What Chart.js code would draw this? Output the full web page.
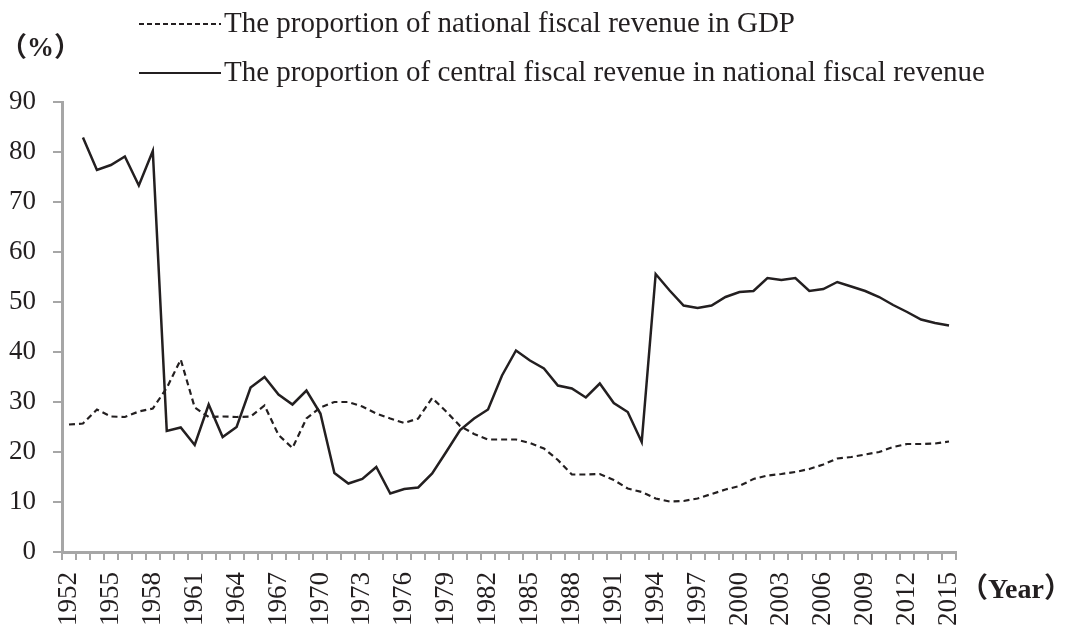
<!DOCTYPE html>
<html><head><meta charset="utf-8">
<script src="https://cdn.jsdelivr.net/npm/chart.js@4.4.1/dist/chart.umd.min.js"></script>
<style>html,body{margin:0;padding:0;background:#fff}#wrap{width:1070px;height:628px;position:relative}</style>
</head><body><div id="wrap"><canvas id="c"></canvas></div>
<script>
const years = [];
for (let y = 1952; y <= 2015; y++) years.push(String(y));
const seriesNames = ["The proportion of national fiscal revenue in GDP","The proportion of central fiscal revenue in national fiscal revenue"];
const nationalInGDP = [25.5,25.7,28.5,27.1,27.0,28.1,28.7,32.8,38.5,28.9,27.0,27.1,27.0,27.1,29.3,23.4,20.8,26.7,28.9,30.0,30.0,29.1,27.7,26.7,25.8,26.7,30.8,28.1,25.2,23.6,22.5,22.5,22.5,21.8,20.7,18.4,15.5,15.5,15.6,14.4,12.7,12.0,10.7,10.1,10.2,10.7,11.6,12.5,13.2,14.6,15.3,15.6,16.0,16.6,17.5,18.7,19.0,19.5,20.0,21.0,21.6,21.6,21.7,22.1];
const centralInNational = [null,82.9,76.4,77.4,79.1,73.3,80.2,24.2,24.9,21.4,29.5,23.0,25.0,32.9,35.0,31.5,29.5,32.3,27.7,15.8,13.7,14.6,17.0,11.7,12.6,12.9,15.7,20.0,24.4,26.7,28.5,35.3,40.3,38.3,36.7,33.3,32.7,30.9,33.7,29.8,28.0,22.0,55.6,52.3,49.3,48.8,49.3,51.0,52.0,52.2,54.8,54.4,54.8,52.2,52.6,54.0,53.1,52.2,51.0,49.4,48.0,46.5,45.8,45.3];
const yTicks = [0,10,20,30,40,50,60,70,80,90];
const yUnit = "（%）";
const xUnit = "（Year）";

const FONT = "'Liberation Serif','Times New Roman','Noto Sans CJK SC',serif";
const INK = "#231f20";
const AXIS = "#a6a6a6";
const L = 62, T = 102, R = 956, B = 552;

const overlay = {
  id: 'overlay',
  afterDraw(chart) {
    const ctx = chart.ctx;
    ctx.save();
    ctx.strokeStyle = INK; ctx.lineWidth = 2;
    const items = [{y: 24, dash: [5,3]}, {y: 73, dash: []}];
    items.forEach((it, i) => {
      ctx.setLineDash(it.dash);
      ctx.beginPath(); ctx.moveTo(139, it.y); ctx.lineTo(221, it.y); ctx.stroke();
      ctx.setLineDash([]);
      ctx.fillStyle = INK;
      ctx.font = "29px " + FONT;
      ctx.textBaseline = 'middle'; ctx.textAlign = 'left';
      ctx.fillText(seriesNames[i], 224, it.y);
    });
    ctx.fillStyle = INK;
    ctx.textAlign = 'left'; ctx.textBaseline = 'middle';
    ctx.font = "bold 27px " + FONT;
    ctx.fillText(yUnit, 0, 49);
    ctx.font = "bold 28px " + FONT;
    ctx.fillText(xUnit, 960, 591);
    ctx.restore();
  }
};

new Chart(document.getElementById('c'), {
  type: 'line',
  data: {
    labels: years,
    datasets: [
      {label: seriesNames[0], data: nationalInGDP, borderColor: INK, borderWidth: 2.2, borderDash: [6,4], pointRadius: 0, tension: 0, fill: false},
      {label: seriesNames[1], data: centralInNational, borderColor: INK, borderWidth: 2.5, pointRadius: 0, tension: 0, fill: false, spanGaps: false}
    ]
  },
  options: {
    responsive: true, maintainAspectRatio: false, animation: false,
    layout: {padding: {left: 0, top: T, right: 1070 - R, bottom: 0}},
    plugins: {legend: {display: false}, tooltip: {enabled: false}},
    scales: {
      x: {
        offset: true,
        grid: {offset: true, drawOnChartArea: false, color: AXIS, lineWidth: 2, tickLength: 8},
        border: {display: true, color: AXIS, width: 3},
        ticks: {autoSkip: false, maxRotation: 90, minRotation: 90, color: INK, padding: 12,
          font: {family: FONT, size: 27},
          callback: function(v, i) { return (i % 3 === 0) ? years[i] : ''; }},
        afterFit: s => { s.height = 628 - B; }
      },
      y: {
        min: 0, max: 90,
        afterBuildTicks: s => { s.ticks = yTicks.map(v => ({value: v})); },
        grid: {drawOnChartArea: false, color: AXIS, lineWidth: 2, tickLength: 9},
        border: {display: true, color: AXIS, width: 3},
        ticks: {color: INK, padding: 17, font: {family: FONT, size: 27}},
        afterFit: s => { s.width = L; }
      }
    }
  },
  plugins: [overlay]
});
</script></body></html>
